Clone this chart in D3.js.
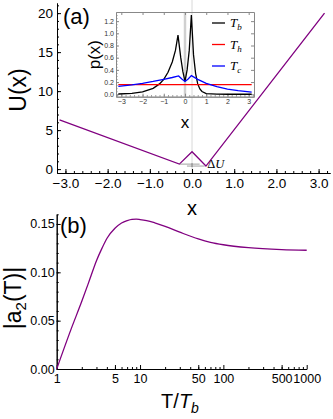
<!DOCTYPE html>
<html>
<head>
<meta charset="utf-8">
<script src="https://cdn.jsdelivr.net/npm/d3@7"></script>
<style>
  body { margin: 0; background: #fff; }
  svg { display: block; font-family: "Liberation Sans", Arial, sans-serif; }
  .axis path, .axis line { stroke: #000; }
  .inset path, .inset line { stroke: #888; }
</style>
</head>
<body>
<div id="d3-container"></div>
<script>
// panel (a): potential U(x)
const uX = [-3.14, -0.3, 0, 0.33, 3.14];
const uVal = [6.3, 0.64, 2.22, 0.39, 20];

// ΔU marker levels (left min, right min)
const duLevels = [0.64, 0.39];
const duSpans = [[-0.3, 0.18], [-0.12, 0.3]];

// inset p(x)
const tbX = [-3.14, -2.5, -2, -1.5, -1.2, -1, -0.8, -0.6, -0.45, -0.33, -0.2, -0.1, 0, 0.1, 0.2, 0.3, 0.4, 0.5, 0.6, 0.7, 0.8, 1, 1.5, 2, 3.14];
const tbVal = [0.004, 0.015, 0.038, 0.097, 0.17, 0.245, 0.36, 0.53, 0.72, 0.97, 0.6, 0.37, 0.21, 0.4, 0.72, 1.3, 0.65, 0.34, 0.17, 0.088, 0.045, 0.012, 0.001, 0, 0];
const thX = [-3.14, 3.14];
const thVal = [0.158, 0.158];
const tcX = [-3.14, -2.5, -2, -1.5, -1, -0.6, -0.3, -0.15, 0, 0.15, 0.3, 0.6, 1, 1.5, 2, 2.5, 3.14];
const tcVal = [0.13, 0.155, 0.18, 0.21, 0.245, 0.275, 0.3, 0.25, 0.21, 0.25, 0.305, 0.245, 0.18, 0.125, 0.086, 0.06, 0.036];
const legendNames = ["b", "h", "c"];
const legendColors = ["#000", "#f00", "#00f"];

// panel (b): |a2(T)|
const tRatio = [1, 1.5, 2, 2.5, 3, 3.5, 4, 5, 6, 7, 8, 9, 10, 12, 15, 20, 30, 50, 70, 100, 200, 500, 1000];
const a2Val = [0, 0.042, 0.07, 0.093, 0.112, 0.125, 0.135, 0.1455, 0.151, 0.1535, 0.1548, 0.155, 0.1546, 0.1535, 0.1512, 0.1475, 0.1415, 0.1345, 0.131, 0.1285, 0.1255, 0.1235, 0.1228];
const tTicks = [1, 5, 10, 50, 100, 500, 1000];

var width = 333;
var height = 419;
var purple = "#800080";

var svg = d3.select('#d3-container')
  .append('svg')
  .attr('width', width)
  .attr('height', height);

// ---------- panel (a) ----------
const x = d3.scaleLinear().domain([-3.2, 3.27]).range([57, 330]);
const y = d3.scaleLinear().domain([-0.5, 21.3]).range([173, 3]);

svg.append("line")
  .attr("x1", x(0)).attr("x2", x(0))
  .attr("y1", 0).attr("y2", y(-0.5))
  .attr("stroke", "#d8d8d8").attr("stroke-width", 1);

svg.append("g").attr("class", "axis")
  .attr("transform", `translate(0,${y(-0.5)})`)
  .call(d3.axisBottom(x).tickValues(d3.range(-3.2, 3.21, 0.2)).tickSize(-2).tickSizeOuter(0).tickFormat(""));
svg.append("g").attr("class", "axis")
  .attr("transform", `translate(0,${y(-0.5)})`)
  .call(d3.axisBottom(x).tickValues(d3.range(-3, 4)).tickSize(-4).tickSizeOuter(0).tickPadding(5))
  .attr("font-size", 13.5).attr("font-family", null);

svg.append("g").attr("class", "axis")
  .attr("transform", `translate(${x(-3.2)},0)`)
  .call(d3.axisLeft(y).tickValues(d3.range(0, 22, 1)).tickSize(-2).tickSizeOuter(0).tickFormat(""));
svg.append("g").attr("class", "axis")
  .attr("transform", `translate(${x(-3.2)},0)`)
  .call(d3.axisLeft(y).tickValues([0, 5, 10, 15, 20]).tickSize(-4).tickSizeOuter(0).tickPadding(4))
  .attr("font-size", 13.5).attr("font-family", null);

svg.append("path")
  .datum(d3.range(uX.length))
  .attr("fill", "none").attr("stroke", purple).attr("stroke-width", 1.3)
  .attr("d", d3.line().x(i => x(uX[i])).y(i => y(uVal[i])));

// ΔU marker
duLevels.forEach((lv, k) => {
  svg.append("line")
    .attr("x1", x(duSpans[k][0])).attr("x2", x(duSpans[k][1]))
    .attr("y1", y(lv)).attr("y2", y(lv))
    .attr("stroke", "#888").attr("stroke-width", 0.8);
});
svg.append("line")
  .attr("x1", x(0)).attr("x2", x(0))
  .attr("y1", y(duLevels[0]) - 1).attr("y2", y(duLevels[1]) + 1)
  .attr("stroke", "#777").attr("stroke-width", 0.8);
svg.append("text")
  .attr("x", x(0.36)).attr("y", y(duLevels[1]) + 2)
  .attr("fill", "#000")
  .attr("font-family", "'Liberation Serif', 'Times New Roman', serif")
  .attr("font-size", 12.5)
  .call(t => {
    t.append("tspan").text("Δ");
    t.append("tspan").attr("font-style", "italic").text("U");
  });

svg.append("text")
  .attr("transform", "translate(26,90) rotate(-90)")
  .attr("text-anchor", "middle")
  .attr("font-size", 23)
  .text("U(x)");
svg.append("text")
  .attr("x", x(0)).attr("y", 215)
  .attr("text-anchor", "middle")
  .attr("font-size", 20)
  .text("x");
svg.append("text")
  .attr("x", 63).attr("y", 24)
  .attr("font-size", 22)
  .text("(a)");

// ---------- inset ----------
const ix = d3.scaleLinear().domain([-3.25, 3.25]).range([116, 254]);
const iy = d3.scaleLinear().domain([-0.04, 1.35]).range([96.7, 12]);
const inset = svg.append("g");

inset.append("line")
  .attr("x1", ix(0)).attr("x2", ix(0))
  .attr("y1", iy(1.35)).attr("y2", iy(-0.04))
  .attr("stroke", "#d0d0d0").attr("stroke-width", 2.5);

function insetAxes(g) {
  g.append("g").attr("class", "inset")
    .attr("transform", `translate(0,${iy(-0.04)})`)
    .call(d3.axisBottom(ix).ticks(7).tickSize(-3).tickSizeOuter(0).tickPadding(2))
    .attr("font-size", 7).attr("font-family", null)
    .selectAll("text").attr("fill", "#333");
  g.append("g").attr("class", "inset")
    .attr("transform", `translate(0,${iy(-0.04)})`)
    .call(d3.axisBottom(ix).tickValues(d3.range(-3.2, 3.21, 0.2)).tickSize(-1.5).tickSizeOuter(0).tickFormat(""));
  g.append("g").attr("class", "inset")
    .attr("transform", `translate(0,${iy(1.35)})`)
    .call(d3.axisTop(ix).ticks(7).tickSize(-3).tickSizeOuter(0).tickFormat(""));
  g.append("g").attr("class", "inset")
    .attr("transform", `translate(${ix(-3.25)},0)`)
    .call(d3.axisLeft(iy).tickValues(d3.range(0, 1.21, 0.2)).tickSize(-3).tickSizeOuter(0).tickPadding(2).tickFormat(d3.format(".1f")))
    .attr("font-size", 7).attr("font-family", null)
    .selectAll("text").attr("fill", "#333");
  g.append("g").attr("class", "inset")
    .attr("transform", `translate(${ix(-3.25)},0)`)
    .call(d3.axisLeft(iy).tickValues(d3.range(0, 1.35, 0.05)).tickSize(-1.5).tickSizeOuter(0).tickFormat(""));
  g.append("g").attr("class", "inset")
    .attr("transform", `translate(${ix(3.25)},0)`)
    .call(d3.axisRight(iy).tickValues(d3.range(0, 1.21, 0.2)).tickSize(-3).tickSizeOuter(0).tickFormat(""));
}
inset.call(insetAxes);

const iline = d3.line().x(d => ix(d[0])).y(d => iy(d[1]));
[[tbX, tbVal, legendColors[0]], [thX, thVal, legendColors[1]], [tcX, tcVal, legendColors[2]]]
  .forEach(([xs, vs, col]) => {
    inset.append("path")
      .datum(d3.zip(xs, vs))
      .attr("fill", "none").attr("stroke", col).attr("stroke-width", 1.3)
      .attr("d", iline);
  });

const leg = inset.append("g").selectAll("g")
  .data(legendNames)
  .join("g")
  .attr("transform", (d, i) => `translate(212,${[23, 44.5, 66][i]})`);
leg.append("line")
  .attr("x1", 0).attr("x2", 13)
  .attr("stroke", (d, i) => legendColors[i]).attr("stroke-width", 1.3);
leg.append("text")
  .attr("x", 18).attr("y", 4)
  .attr("fill", "#000")
  .attr("font-family", "'Liberation Serif', 'Times New Roman', serif")
  .attr("font-style", "italic")
  .attr("font-size", 13)
  .call(t => {
    t.append("tspan").text("T");
    t.append("tspan").attr("font-size", 9).attr("dy", 3).text(d => d);
  });

inset.append("text")
  .attr("transform", `translate(100,${iy(0.65)}) rotate(-90)`)
  .attr("text-anchor", "middle")
  .attr("font-size", 17)
  .text("p(x)");
inset.append("text")
  .attr("x", ix(0)).attr("y", 128)
  .attr("text-anchor", "middle")
  .attr("font-size", 17)
  .text("x");

// ---------- panel (b) ----------
const xb = d3.scaleLog().domain([1, 1000]).range([56.7, 306.7]);
const yb = d3.scaleLinear().domain([0, 0.16]).range([369, 214.3]);

const minorT = [];
[1, 10, 100].forEach(dec => d3.range(2, 10).forEach(m => minorT.push(dec * m)));

svg.append("g").attr("class", "axis")
  .attr("transform", `translate(0,${yb(0)})`)
  .call(d3.axisBottom(xb).tickValues(minorT).tickSize(-2).tickSizeOuter(0).tickFormat(""));
svg.append("g").attr("class", "axis")
  .attr("transform", `translate(0,${yb(0)})`)
  .call(d3.axisBottom(xb).tickValues(tTicks).tickSize(-4).tickSizeOuter(0).tickPadding(5).tickFormat(d3.format("d")))
  .attr("font-size", 12.5).attr("font-family", null);

svg.append("g").attr("class", "axis")
  .attr("transform", `translate(${xb(1)},0)`)
  .call(d3.axisLeft(yb).tickValues(d3.range(0, 0.161, 0.01)).tickSize(-2).tickSizeOuter(0).tickFormat(""));
svg.append("g").attr("class", "axis")
  .attr("transform", `translate(${xb(1)},0)`)
  .call(d3.axisLeft(yb).tickValues([0, 0.05, 0.1, 0.15]).tickSize(-4).tickSizeOuter(0).tickPadding(2).tickFormat(d3.format(".2f")))
  .attr("font-size", 12.5).attr("font-family", null);

svg.append("path")
  .datum(d3.range(tRatio.length))
  .attr("fill", "none").attr("stroke", purple).attr("stroke-width", 1.3)
  .attr("d", d3.line().curve(d3.curveMonotoneX).x(i => xb(tRatio[i])).y(i => yb(a2Val[i])));

svg.append("text")
  .attr("x", 60).attr("y", 233)
  .attr("font-size", 22)
  .text("(b)");

svg.append("text")
  .attr("transform", "translate(21,298) rotate(-90)")
  .attr("text-anchor", "middle")
  .attr("font-size", 23)
  .call(t => {
    t.append("tspan").text("|a");
    t.append("tspan").attr("font-size", 15).attr("dy", 5).text("2");
    t.append("tspan").attr("dy", -5).text("(T)|");
  });

svg.append("text")
  .attr("x", 180).attr("y", 408)
  .attr("text-anchor", "middle")
  .attr("font-size", 20)
  .call(t => {
    t.append("tspan").text("T/");
    t.append("tspan").attr("font-style", "italic").text("T");
    t.append("tspan").attr("font-style", "italic").attr("font-size", 14).attr("dy", 5).text("b");
  });

svg.node();
</script>
</body>
</html>
